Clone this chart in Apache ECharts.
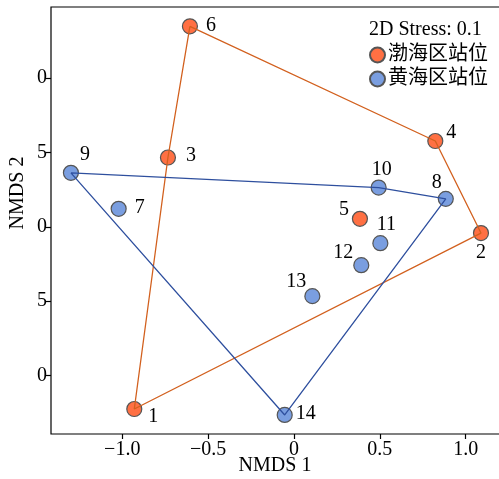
<!DOCTYPE html>
<html>
<head>
<meta charset="utf-8">
<script src="https://cdn.jsdelivr.net/npm/echarts@6/dist/echarts.min.js"></script>
<style>html,body{margin:0;padding:0;background:#fff}#chart{width:499px;height:479px}</style>
</head>
<body>
<div id="chart"></div>
<script>
// Data
const bohaiIds = [1, 2, 3, 4, 5, 6];
const bohaiX = [-0.930, 1.089, -0.734, 0.823, 0.384, -0.606];
const bohaiY = [-1.225, -0.042, 0.466, 0.577, 0.054, 1.348];
const huanghaiIds = [7, 8, 9, 10, 11, 12, 13, 14];
const huanghaiX = [-1.021, 0.884, -1.299, 0.493, 0.503, 0.392, 0.107, -0.054];
const huanghaiY = [0.121, 0.188, 0.363, 0.264, -0.110, -0.258, -0.466, -1.265];
const bohaiHull = [6, 4, 2, 1, 3, 6];
const huanghaiHull = [9, 10, 8, 14, 9];
const xTicks = [-1.0, -0.5, 0, 0.5, 1.0];
const yTicks = [1.0, 0.5, 0, -0.5, -1.0];
const seriesNames = ['渤海区站位', '黄海区站位'];
const stressText = '2D Stress: 0.1';

// Label placement (style)
const labelOffsets = {
  1: [19, 8], 2: [0, 20], 3: [23, -2], 4: [16, -8], 5: [-16, -9], 6: [21, -1],
  7: [21, -1], 8: [-9, -16], 9: [14, -18], 10: [3, -18], 11: [6, -18],
  12: [-18, -12], 13: [-16, -14], 14: [21, -1]
};

const FONT = '"Liberation Serif", "Times New Roman", "Noto Sans CJK SC", serif';
const FS = 20;

function pts(ids, xs, ys) {
  return ids.map((id, i) => ({
    value: [xs[i], ys[i]],
    name: String(id),
    label: { offset: labelOffsets[id] }
  }));
}
function hull(order, ids, xs, ys) {
  return order.map(id => { const i = ids.indexOf(id); return [xs[i], ys[i]]; });
}

const chart = echarts.init(document.getElementById('chart'), null, { renderer: 'canvas' });
const scatterLabel = {
  show: true, position: 'inside', formatter: p => p.name,
  color: '#000', fontFamily: FONT, fontSize: FS, align: 'center', verticalAlign: 'middle'
};
chart.setOption({
  animation: false,
  backgroundColor: '#fff',
  title: {
    text: stressText, left: 369, top: 20, padding: 0,
    textStyle: { fontFamily: FONT, fontSize: FS, fontWeight: 'normal', color: '#000' }
  },
  legend: {
    data: seriesNames, orient: 'vertical', left: 369, top: 45, padding: 0,
    itemGap: 4, itemWidth: 15, itemHeight: 15, icon: 'circle',
    textStyle: { fontFamily: FONT, fontSize: FS, color: '#000', padding: [0, 0, 0, -2] }
  },
  grid: {
    left: 51, top: 7, width: 459, height: 427, show: true,
    outerBoundsMode: 'none', containLabel: false,
    borderColor: '#000', borderWidth: 1.2, backgroundColor: 'transparent'
  },
  xAxis: {
    type: 'value', min: -1.415, max: 1.258,
    axisLine: { show: false, onZero: false },
    splitLine: { show: false },
    axisTick: { show: true, length: 5, customValues: xTicks, lineStyle: { color: '#000', width: 1.2 } },
    axisLabel: {
      customValues: xTicks, margin: 6, color: '#000', fontFamily: FONT, fontSize: FS,
      formatter: v => v === 0 ? '0' : (v < 0 ? '\u2212' : '') + Math.abs(v).toFixed(1)
    }
  },
  yAxis: {
    type: 'value', min: -1.393, max: 1.478,
    axisLine: { show: false, onZero: false },
    splitLine: { show: false },
    axisTick: { show: true, length: 5, customValues: yTicks, lineStyle: { color: '#000', width: 1.2 } },
    axisLabel: {
      customValues: yTicks, margin: 4, color: '#000', fontFamily: FONT, fontSize: FS,
      formatter: v => { const s = v === 0 ? '0' : v.toFixed(1); return s.slice(-1); }
    }
  },
  graphic: [
    { type: 'text', x: 275, y: 466, style: { text: 'NMDS 1', font: FS + 'px ' + FONT, fill: '#000', textAlign: 'center', textVerticalAlign: 'middle' } },
    { type: 'text', x: 18, y: 193, rotation: Math.PI / 2, style: { text: 'NMDS 2', font: FS + 'px ' + FONT, fill: '#000', textAlign: 'center', textVerticalAlign: 'middle' } }
  ],
  series: [
    {
      name: seriesNames[0], type: 'scatter', symbolSize: 15, z: 2,
      itemStyle: { color: '#FF7043', borderColor: '#555', borderWidth: 1.2, opacity: 1 },
      label: scatterLabel,
      data: pts(bohaiIds, bohaiX, bohaiY)
    },
    {
      name: seriesNames[1], type: 'scatter', symbolSize: 15, z: 2,
      itemStyle: { color: '#7A9EE0', borderColor: '#555', borderWidth: 1.2, opacity: 1 },
      label: scatterLabel,
      data: pts(huanghaiIds, huanghaiX, huanghaiY)
    },
    {
      name: 'bohaiHull', type: 'line', showSymbol: false, symbol: 'none', z: 3, silent: true,
      lineStyle: { color: '#D2601E', width: 1.3 },
      data: hull(bohaiHull, bohaiIds, bohaiX, bohaiY)
    },
    {
      name: 'huanghaiHull', type: 'line', showSymbol: false, symbol: 'none', z: 3, silent: true,
      lineStyle: { color: '#2E4F9E', width: 1.3 },
      data: hull(huanghaiHull, huanghaiIds, huanghaiX, huanghaiY)
    }
  ]
});
</script>
</body>
</html>
